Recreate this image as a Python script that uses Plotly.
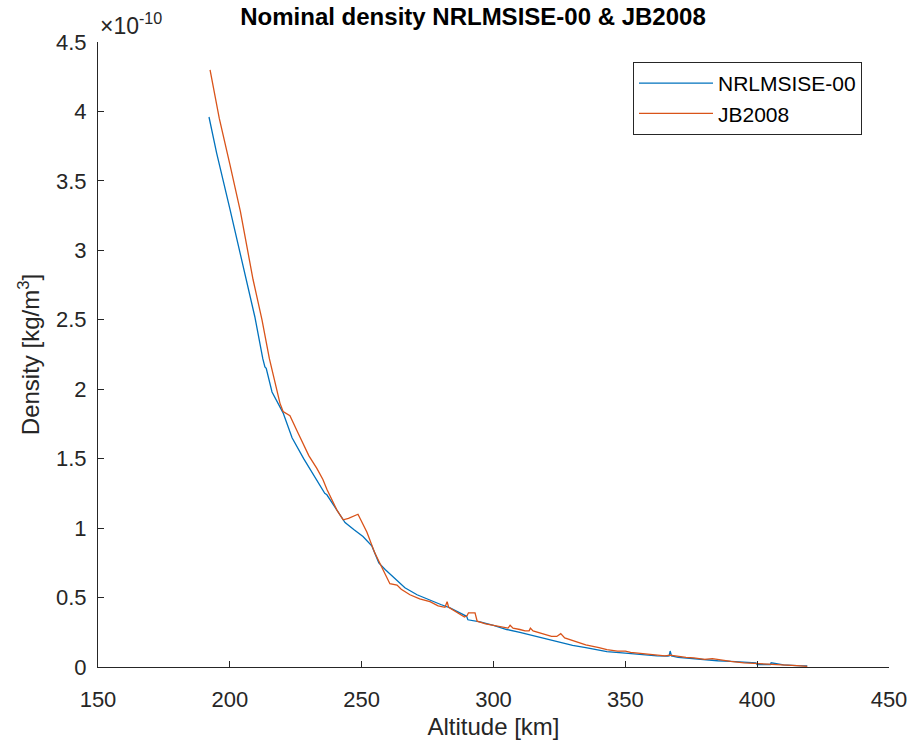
import plotly.graph_objects as go

# NRLMSISE-00 : altitude [km], density [1e-10 kg/m^3]
alt_nrl = [192.1, 195, 200, 205, 209.5, 212.5, 213.3, 213.8, 216, 220.2, 223.6, 228, 232.3,
           236, 236.8, 241, 243.7, 247, 250.5, 253.9, 256.5, 259, 262, 266.4, 271, 275.9,
           280, 283.5, 287, 289.8, 290.3, 292.5, 294.9, 300, 305, 310, 315, 320, 325, 330,
           335, 340, 343, 350, 355, 358, 362, 366, 366.6, 367, 367.5, 370, 375, 380, 385,
           390, 395, 399.5, 400, 405, 405.3, 410, 415, 419]
rho_nrl = [3.96, 3.70, 3.30, 2.90, 2.52, 2.22, 2.16, 2.15, 1.98, 1.83, 1.65, 1.50, 1.37,
           1.25, 1.24, 1.12, 1.04, 0.99, 0.94, 0.87, 0.75, 0.70, 0.65, 0.57, 0.52, 0.48,
           0.45, 0.425, 0.39, 0.365, 0.34, 0.335, 0.325, 0.30, 0.27, 0.25, 0.225, 0.20,
           0.175, 0.155, 0.14, 0.12, 0.11, 0.10, 0.09, 0.085, 0.08, 0.078, 0.08, 0.115,
           0.08, 0.07, 0.06, 0.05, 0.045, 0.04, 0.035, 0.03, 0.018, 0.018, 0.03, 0.015,
           0.01, 0.008]

# JB2008 : altitude [km], density [1e-10 kg/m^3]
alt_jb = [192.5, 196, 200, 204, 208.8, 212.2, 215, 219, 220.2, 222.8, 226, 230, 233, 235.3,
          236.8, 240.6, 243, 245, 248.6, 250, 252, 255, 257.7, 259, 260.7, 263.4, 265,
          268.3, 272, 275.9, 279, 281.6, 282.4, 283, 287, 289, 290, 290.5, 293, 293.8,
          297, 300, 303, 305.5, 306.3, 307.4, 310, 312, 313.5, 314, 315, 318, 320, 322,
          324, 325.5, 327, 330, 335, 340, 343, 347, 350, 352, 355, 360, 365, 367, 370,
          373, 376, 380, 383, 386, 390, 395, 400, 405, 410, 415, 419]
rho_jb = [4.30, 3.95, 3.62, 3.28, 2.79, 2.50, 2.22, 1.90, 1.84, 1.81, 1.68, 1.52, 1.43, 1.35,
          1.28, 1.13, 1.06, 1.07, 1.10, 1.05, 0.97, 0.82, 0.71, 0.66, 0.60, 0.59, 0.56,
          0.52, 0.49, 0.47, 0.44, 0.43, 0.47, 0.43, 0.38, 0.36, 0.37, 0.39, 0.39, 0.33,
          0.31, 0.30, 0.29, 0.28, 0.30, 0.28, 0.27, 0.26, 0.26, 0.28, 0.26, 0.245, 0.235,
          0.22, 0.22, 0.24, 0.21, 0.19, 0.16, 0.14, 0.125, 0.115, 0.115, 0.105, 0.10,
          0.09, 0.08, 0.085, 0.075, 0.07, 0.065, 0.055, 0.06, 0.05, 0.04, 0.03, 0.025,
          0.02, 0.02, 0.01, 0.005]

x_ticks = [150, 200, 250, 300, 350, 400, 450]
y_ticks = [0, 0.5, 1, 1.5, 2, 2.5, 3, 3.5, 4, 4.5]
y_ticklabels = ["0", "0.5", "1", "1.5", "2", "2.5", "3", "3.5", "4", "4.5"]

FONT = "Liberation Sans, Arial, Helvetica, sans-serif"
AX = "#262626"

fig = go.Figure()
fig.add_trace(go.Scatter(x=alt_nrl, y=rho_nrl, mode="lines", name="NRLMSISE-00",
                         line=dict(color="#0072BD", width=1.3)))
fig.add_trace(go.Scatter(x=alt_jb, y=rho_jb, mode="lines", name="JB2008",
                         line=dict(color="#D95319", width=1.3)))

W, H = 909, 745
L, R, T, B = 98, 20, 42, 78
fig.update_layout(
    width=W, height=H,
    margin=dict(l=L, r=R, t=T, b=B, autoexpand=False),
    paper_bgcolor="white", plot_bgcolor="white",
    font=dict(family=FONT, color=AX, size=22),
    title=dict(text="<b>Nominal density NRLMSISE-00 & JB2008</b>",
               font=dict(family=FONT, size=24, color="black"),
               x=(473 - L) / (W - L - R), xref="paper", xanchor="center",
               y=1 - 17 / H, yref="container", yanchor="middle"),
    xaxis=dict(range=[150, 450], tickvals=x_ticks, ticks="inside", ticklen=6,
               tickcolor=AX, showline=True, linecolor=AX, linewidth=1,
               showgrid=False, zeroline=False, mirror=False,
               ticklabelstandoff=13,
               title=dict(text="Altitude [km]", font=dict(size=24), standoff=6)),
    yaxis=dict(range=[0, 4.5], tickvals=y_ticks, ticktext=y_ticklabels,
               ticks="inside", ticklen=6, tickcolor=AX, showline=True,
               linecolor=AX, linewidth=1, showgrid=False, zeroline=False,
               ticklabelstandoff=6,
               title=dict(text="Density [kg/m<sup>3</sup>]", font=dict(size=24), standoff=9)),
    legend=dict(x=(633 - L) / (W - L - R), y=1 - (62 - T) / (H - T - B),
                xanchor="left", yanchor="top", bgcolor="white",
                bordercolor=AX, borderwidth=1, font=dict(size=21, color="black"),
                tracegroupgap=0, itemwidth=74),
    showlegend=True,
)
fig.add_annotation(text="\u00d710<sup>-10</sup>", xref="paper", yref="paper",
                   x=0, y=1, xshift=0, yshift=1, xanchor="left", yanchor="bottom",
                   showarrow=False, font=dict(size=23, color=AX))

fig.write_html("out.html")
